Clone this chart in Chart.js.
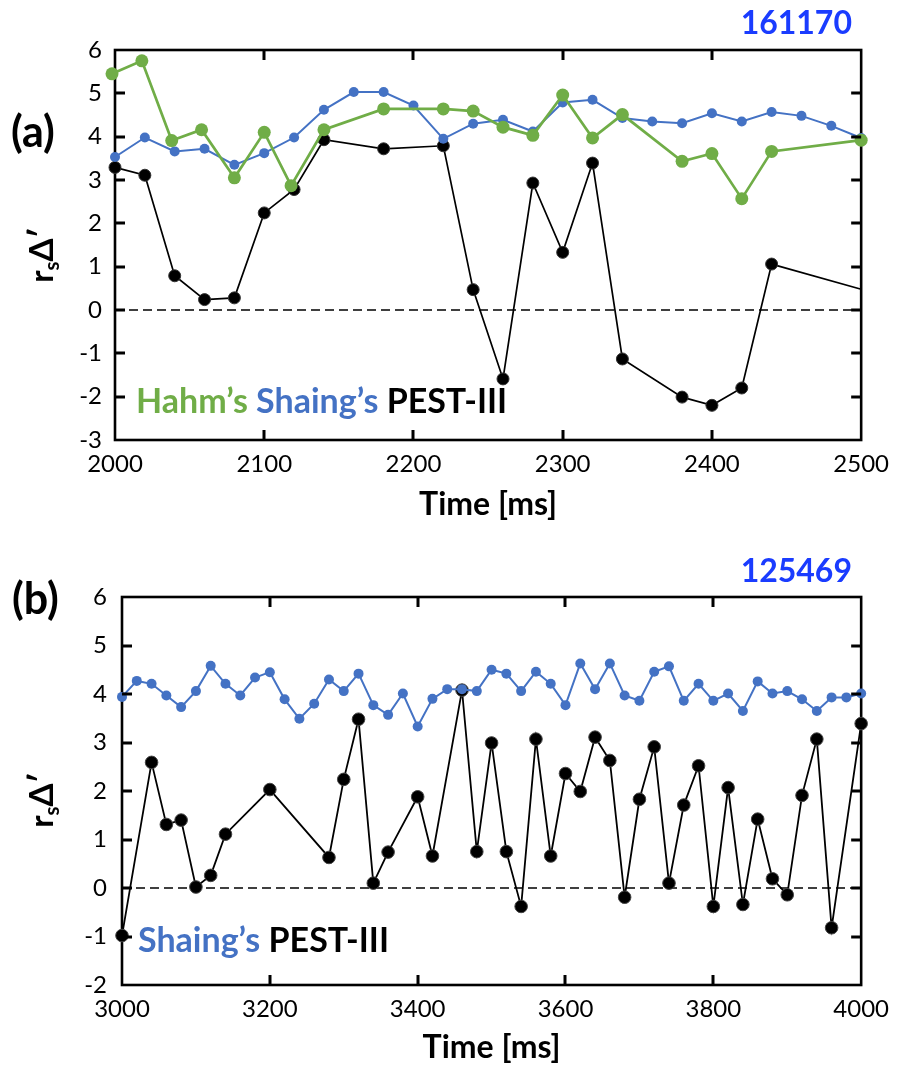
<!DOCTYPE html>
<html><head><meta charset="utf-8">
<script src="https://cdn.jsdelivr.net/npm/chart.js@4.4.1/dist/chart.umd.min.js"></script>
<style>
html,body{margin:0;padding:0;background:#fff;}
body{width:899px;height:1069px;position:relative;overflow:hidden;font-family:Lato,"Open Sans",sans-serif;}
canvas{position:absolute;left:0;}
#ca{top:0;width:899px;height:530px;}
#cb{top:540px;width:899px;height:529px;}
.t{position:absolute;white-space:nowrap;font-weight:bold;line-height:1;}
.yt{position:absolute;white-space:nowrap;font-weight:bold;font-size:33px;line-height:1;transform:translate(-50%,-50%) rotate(-90deg);}
.yt sub{font-size:0.62em;vertical-align:-0.28em;}
</style></head><body>
<canvas id="ca" width="899" height="530"></canvas>
<canvas id="cb" width="899" height="529"></canvas>

<div class="t" style="left:11px;top:130px;font-size:43px;transform:translateY(-50%);">(a)</div>
<div class="t" style="right:47px;top:22px;font-size:32px;color:#1a3cff;transform:translateY(-50%);">161170</div>
<div class="yt" style="left:43px;top:255px;">r<sub>s</sub>Δ′</div>
<div class="t" style="left:136px;top:383px;font-size:34px;"><span style="color:#70ad47">Hahm’s</span> <span style="color:#4472c4">Shaing’s</span> <span style="color:#000">PEST-III</span></div>

<div class="t" style="left:12px;top:597px;font-size:43px;transform:translateY(-50%);">(b)</div>
<div class="t" style="right:47px;top:570px;font-size:32px;color:#1a3cff;transform:translateY(-50%);">125469</div>
<div class="yt" style="left:43px;top:800px;">r<sub>s</sub>Δ′</div>
<div class="t" style="left:138px;top:922px;font-size:34px;"><span style="color:#4472c4">Shaing’s</span> <span style="color:#000">PEST-III</span></div>

<script>
// ---------- Panel (a) data : shot 161170 ----------
const timeA_hahm  = [1998,2018,2038,2058,2080,2100,2118,2140,2180,2220,2240,2260,2280,2300,2320,2340,2380,2400,2420,2440,2500];
const hahmA       = [5.45,5.75,3.91,4.16,3.05,4.10,2.87,4.16,4.64,4.64,4.59,4.22,4.03,4.96,3.97,4.51,3.43,3.61,2.57,3.66,3.92];
const timeA_shaing= [2000,2020,2040,2060,2080,2100,2120,2140,2160,2180,2200,2220,2240,2260,2280,2300,2320,2340,2360,2380,2400,2420,2440,2460,2480,2500];
const shaingA     = [3.53,3.98,3.66,3.72,3.35,3.62,3.98,4.62,5.03,5.03,4.72,3.95,4.30,4.39,4.12,4.79,4.85,4.43,4.35,4.31,4.54,4.35,4.57,4.48,4.25,3.97];
const timeA_pest  = [2000,2020,2040,2060,2080,2100,2120,2140,2180,2220,2240,2260,2280,2300,2320,2340,2380,2400,2420,2440,2500];
const pestA       = [3.29,3.11,0.79,0.24,0.28,2.24,2.78,3.93,3.72,3.79,0.47,-1.59,2.93,1.33,3.39,-1.13,-2.01,-2.20,-1.80,1.06,0.48];
const xTicksA = [2000,2100,2200,2300,2400,2500];
const yTicksA = [-3,-2,-1,0,1,2,3,4,5,6];

// ---------- Panel (b) data : shot 125469 ----------
const timeB_shaing = [3000,3020,3040,3060,3080,3100,3120,3140,3160,3180,3200,3220,3240,3260,3280,3300,3320,3340,3360,3380,3400,3420,3440,3460,3480,3500,3520,3540,3560,3580,3600,3620,3640,3660,3680,3700,3720,3740,3760,3780,3800,3820,3840,3860,3880,3900,3920,3940,3960,3980,4000];
const shaingB      = [3.94,4.27,4.21,3.97,3.73,4.06,4.58,4.21,3.97,4.34,4.45,3.89,3.49,3.80,4.30,4.06,4.42,3.77,3.57,4.01,3.33,3.90,4.10,4.10,4.06,4.50,4.42,4.06,4.46,4.21,3.77,4.63,4.10,4.63,3.97,3.86,4.46,4.57,3.86,4.21,3.86,4.01,3.65,4.26,4.01,4.06,3.89,3.65,3.93,3.93,4.01];
const timeB_pest   = [3000,3040,3060,3080,3100,3120,3140,3200,3280,3300,3320,3340,3360,3400,3420,3460,3480,3500,3520,3540,3560,3580,3600,3620,3640,3660,3680,3700,3720,3740,3760,3780,3800,3820,3840,3860,3880,3900,3920,3940,3960,4000];
const pestB        = [-0.98,2.59,1.31,1.40,0.02,0.26,1.11,2.03,0.63,2.24,3.48,0.10,0.74,1.88,0.66,4.08,0.75,2.99,0.75,-0.38,3.07,0.66,2.36,1.99,3.11,2.63,-0.19,1.83,2.91,0.10,1.71,2.52,-0.38,2.07,-0.34,1.42,0.19,-0.14,1.91,3.07,-0.82,3.39];
const xTicksB = [3000,3200,3400,3600,3800,4000];
const yTicksB = [-2,-1,0,1,2,3,4,5,6];

Chart.defaults.font.family = 'Lato, "Open Sans", sans-serif';
Chart.defaults.color = '#000';

const pts = (xs, ys) => xs.map((x, i) => ({x, y: ys[i]}));

// frame (under the data) and inward tick marks on all four sides (on top)
const framePlugin = {
  id: 'frame',
  beforeDatasetsDraw(chart) {
    const {ctx, chartArea: a} = chart;
    ctx.save();
    ctx.strokeStyle = '#000';
    ctx.lineWidth = 2.6;
    ctx.strokeRect(a.left, a.top, a.right - a.left, a.bottom - a.top);
    ctx.restore();
  },
  afterDraw(chart, args, opts) {
    const ctx = chart.ctx, a = chart.chartArea;
    const xs = chart.scales.x, ys = chart.scales.y;
    const xt = opts.xt || [], yt = opts.yt || [];
    const L = 10;
    ctx.save();
    ctx.fillStyle = '#000';
    xt.forEach(v => {
      if (v <= xs.min || v >= xs.max) return;
      const px = Math.round(xs.getPixelForValue(v));
      ctx.fillRect(px - 1.5, a.bottom - L, 3, L);
      ctx.fillRect(px - 1.5, a.top, 3, L);
    });
    yt.forEach(v => {
      if (v <= ys.min || v >= ys.max) return;
      const py = Math.round(ys.getPixelForValue(v));
      ctx.fillRect(a.left, py - 1.5, L, 3);
      ctx.fillRect(a.right - L, py - 1.5, L, 3);
    });
    ctx.restore();
  }
};

function makeScales(xmin, xmax, xticks, ymin, ymax, yticks, yPad, xH) {
  return {
    x: {
      type: 'linear', min: xmin, max: xmax,
      grid: {display: false, drawTicks: false}, border: {display: false},
      afterBuildTicks: s => { s.ticks = xticks.map(v => ({value: v})); },
      ticks: {font: {size: 24}, padding: 10, autoSkip: false, maxRotation: 0, color: '#000',
              callback: v => String(v)},
      title: {display: true, text: 'Time [ms]', font: {size: 32, weight: 'bold'}, padding: 0, color: '#000'},
      afterFit: s => { s.height = xH; }
    },
    y: {
      type: 'linear', min: ymin, max: ymax,
      grid: {display: false, drawTicks: false}, border: {display: false},
      afterBuildTicks: s => { s.ticks = yticks.map(v => ({value: v})); },
      ticks: {font: {size: 24}, padding: yPad, color: '#000', callback: v => String(v)},
      afterFit: s => { s.width = 60; }
    }
  };
}

const zeroLine = (xmin, xmax) => ({
  data: [{x: xmin, y: 0}, {x: xmax, y: 0}],
  borderColor: '#000', borderWidth: 1.6, borderDash: [9, 5],
  pointRadius: 0, order: 4, clip: false
});

new Chart(document.getElementById('ca'), {
  type: 'line',
  data: {
    datasets: [
      {label: "Hahm's", data: pts(timeA_hahm, hahmA), borderColor: '#70ad47', backgroundColor: '#70ad47',
       borderWidth: 2.7, pointRadius: 6.5, pointBorderWidth: 0, order: 1, clip: false},
      {label: "Shaing's", data: pts(timeA_shaing, shaingA), borderColor: '#4472c4', backgroundColor: '#4472c4',
       borderWidth: 2, pointRadius: 5, pointBorderWidth: 0, order: 2, clip: false},
      {label: 'PEST-III', data: pts(timeA_pest, pestA), borderColor: '#000', backgroundColor: '#000',
       borderWidth: 1.7, pointRadius: c => (c.dataIndex === pestA.length - 1 ? 0 : 6),
       pointBorderColor: '#333', pointBorderWidth: 1, order: 3, clip: false},
      zeroLine(2000, 2500)
    ]
  },
  options: {
    responsive: false, animation: false,
    layout: {padding: {left: 55, top: 50, right: 31, bottom: 6}},
    plugins: {legend: {display: false}, tooltip: {enabled: false}, frame: {xt: xTicksA, yt: yTicksA}},
    elements: {line: {tension: 0}},
    scales: makeScales(2000, 2500, xTicksA, -3, 6, yTicksA, 13, 84)
  },
  plugins: [framePlugin]
});

new Chart(document.getElementById('cb'), {
  type: 'line',
  data: {
    datasets: [
      {label: "Shaing's", data: pts(timeB_shaing, shaingB), borderColor: '#4472c4', backgroundColor: '#4472c4',
       borderWidth: 2, pointRadius: 5, pointBorderWidth: 0, order: 1, clip: false},
      {label: 'PEST-III', data: pts(timeB_pest, pestB), borderColor: '#000', backgroundColor: '#000',
       borderWidth: 1.8, pointRadius: 6.3, pointBorderColor: '#444', pointBorderWidth: 1, order: 3, clip: false},
      zeroLine(3000, 4000)
    ]
  },
  options: {
    responsive: false, animation: false,
    layout: {padding: {left: 62, top: 57, right: 30, bottom: 2}},
    plugins: {legend: {display: false}, tooltip: {enabled: false}, frame: {xt: xTicksB, yt: yTicksB}},
    elements: {line: {tension: 0}},
    scales: makeScales(3000, 4000, xTicksB, -2, 6, yTicksB, 15, 82)
  },
  plugins: [framePlugin]
});
</script>
</body></html>
